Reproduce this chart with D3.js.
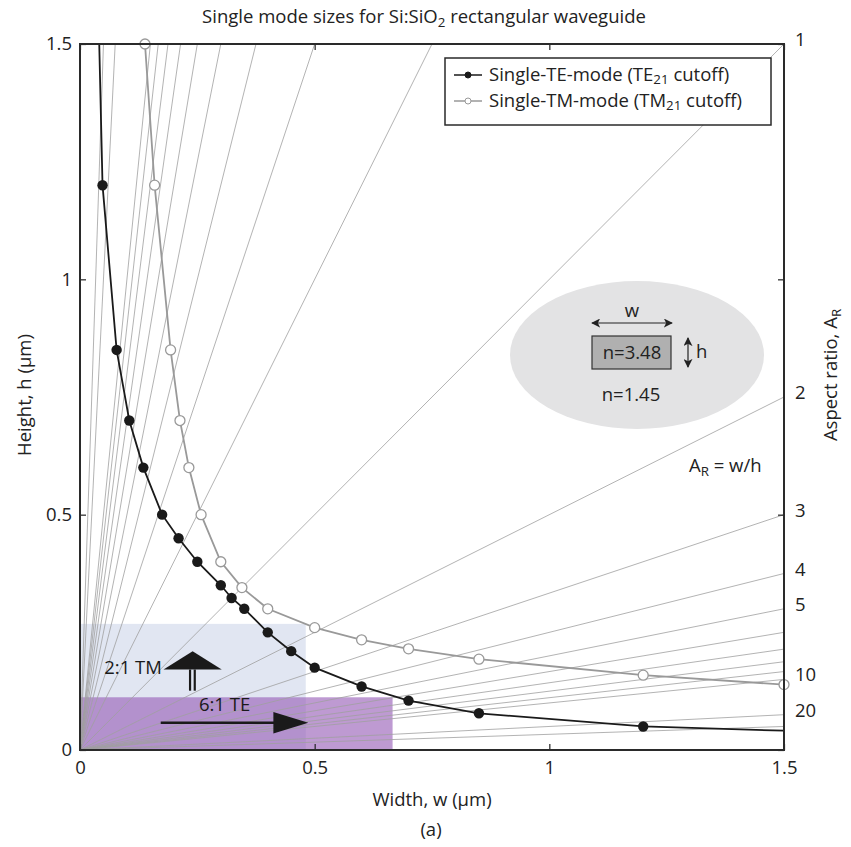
<!DOCTYPE html>
<html>
<head>
<meta charset="utf-8">
<script src="https://cdn.jsdelivr.net/npm/d3@7"></script>
<style>
  body { margin: 0; background: #fff; }
  svg { font-family: "Open Sans", Lato, sans-serif; }
</style>
</head>
<body>
<div id="chart"></div>
<script>
// single-TE-mode boundary (TE21 cutoff), width / height in um
const te_w = [0.041, 0.048, 0.078, 0.105, 0.135, 0.175, 0.21, 0.25, 0.3, 0.323, 0.35, 0.4, 0.45, 0.5, 0.6, 0.7, 0.85, 1.2, 1.5];
const te_h = [1.5, 1.2, 0.85, 0.7, 0.6, 0.5, 0.45, 0.4, 0.35, 0.323, 0.3, 0.25, 0.21, 0.175, 0.135, 0.105, 0.078, 0.05, 0.041];
// single-TM-mode boundary (TM21 cutoff)
const tm_w = [0.1385, 0.159, 0.193, 0.213, 0.232, 0.258, 0.3, 0.345, 0.4, 0.5, 0.6, 0.7, 0.85, 1.2, 1.5];
const tm_h = [1.5, 1.2, 0.85, 0.7, 0.6, 0.5, 0.4, 0.345, 0.3, 0.26, 0.234, 0.215, 0.193, 0.159, 0.139];

// aspect ratio guide lines A_R = w/h
const aspect_ratios = [1/30, 1/20, 1/10, 1/9, 1/8, 1/7, 1/6, 1/5, 1/4, 1/3, 1/2, 1, 2, 3, 4, 5, 6, 7, 8, 9, 10, 20, 30];
const ar_labels = [1, 2, 3, 4, 5, 10, 20];

const x_ticks = [0, 0.5, 1, 1.5];
const y_ticks = [0, 0.5, 1, 1.5];

// shaded design regions: 2:1 TM (blue) and 6:1 TE (purple)
const region_names = ["tm", "te"];
const region_w = [0.481, 0.666];
const region_h = [0.268, 0.112];

const W = 851, H = 847;
const FS = 18.5;
const x = d3.scaleLinear([0, 1.5], [80, 784]);
const y = d3.scaleLinear([0, 1.5], [750, 44]);

const svg = d3.select("#chart").append("svg")
    .attr("width", W)
    .attr("height", H);

const defs = svg.append("defs");
defs.append("clipPath")
    .attr("id", "plot-clip")
  .append("rect")
    .attr("x", x(0)).attr("y", y(1.5))
    .attr("width", x(1.5) - x(0))
    .attr("height", y(0) - y(1.5));

defs.append("marker")
    .attr("id", "head")
    .attr("viewBox", "0 0 10 10")
    .attr("refX", 9).attr("refY", 5)
    .attr("markerWidth", 9).attr("markerHeight", 9)
    .attr("markerUnits", "userSpaceOnUse")
    .attr("orient", "auto-start-reverse")
  .append("path")
    .attr("d", "M0,0L10,5L0,10L2.5,5Z")
    .attr("fill", "#222");

const plot = svg.append("g").attr("clip-path", "url(#plot-clip)");

// regions
const region_fill = {tm: "#e1e6f2", te: "rgba(150, 92, 182, 0.62)"};
plot.selectAll("rect.region")
  .data(region_names)
  .join("rect")
    .classed("region", true)
    .attr("x", x(0))
    .attr("y", (d, i) => y(region_h[i]))
    .attr("width", (d, i) => x(region_w[i]) - x(0))
    .attr("height", (d, i) => y(0) - y(region_h[i]))
    .attr("fill", d => region_fill[d]);

// aspect ratio lines from origin
plot.selectAll("line.ar")
  .data(aspect_ratios)
  .join("line")
    .classed("ar", true)
    .attr("x1", x(0)).attr("y1", y(0))
    .attr("x2", x(3))
    .attr("y2", a => y(3 / a))
    .attr("stroke", "#a0a0a0")
    .attr("stroke-width", 0.8);

const te_data = te_w.map((w, i) => [w, te_h[i]]);
const tm_data = tm_w.map((w, i) => [w, tm_h[i]]);
const line = d3.line().x(d => x(d[0])).y(d => y(d[1]));

plot.append("path")
    .datum(tm_data)
    .attr("d", line)
    .attr("fill", "none")
    .attr("stroke", "#999")
    .attr("stroke-width", 1.8);

plot.append("path")
    .datum(te_data)
    .attr("d", line)
    .attr("fill", "none")
    .attr("stroke", "#1a1a1a")
    .attr("stroke-width", 1.8);

// markers (TE curve runs past the frame at both ends without a marker)
svg.append("g").selectAll("circle")
  .data(tm_data)
  .join("circle")
    .attr("cx", d => x(d[0]))
    .attr("cy", d => y(d[1]))
    .attr("r", 5)
    .attr("fill", "#fff")
    .attr("stroke", "#999")
    .attr("stroke-width", 1.3);

svg.append("g").selectAll("circle")
  .data(te_data.slice(1, -1))
  .join("circle")
    .attr("cx", d => x(d[0]))
    .attr("cy", d => y(d[1]))
    .attr("r", 5.2)
    .attr("fill", "#1a1a1a");

// axes
const fmt = d3.format("");
const style_axis = g => {
  g.attr("font-size", FS).attr("font-family", null);
  g.select(".domain").remove();
  g.selectAll(".tick text").attr("fill", "#222");
  g.selectAll(".tick line").attr("stroke", "#222").attr("stroke-width", 1.2);
};

svg.append("g")
    .attr("transform", `translate(0,${y(0)})`)
    .call(d3.axisBottom(x).tickValues(x_ticks).tickSize(-6).tickPadding(11).tickFormat(fmt))
    .call(style_axis);
svg.append("g")
    .attr("transform", `translate(${x(0)},0)`)
    .call(d3.axisLeft(y).tickValues(y_ticks).tickSize(-6).tickPadding(8).tickFormat(fmt))
    .call(style_axis);
svg.append("g")
    .attr("transform", `translate(0,${y(1.5)})`)
    .call(d3.axisTop(x).tickValues(x_ticks).tickSize(-6).tickFormat(""))
    .call(style_axis);
svg.append("g")
    .attr("transform", `translate(${x(1.5)},0)`)
    .call(d3.axisRight(y).tickValues(y_ticks).tickSize(-6).tickFormat(""))
    .call(style_axis);

svg.append("rect")
    .attr("x", x(0)).attr("y", y(1.5))
    .attr("width", x(1.5) - x(0))
    .attr("height", y(0) - y(1.5))
    .attr("fill", "none")
    .attr("stroke", "#2a2a2a")
    .attr("stroke-width", 2);

// aspect ratio labels on the right
svg.append("g").selectAll("text")
  .data(ar_labels)
  .join("text")
    .attr("x", x(1.5) + 11)
    .attr("y", a => y(Math.min(1.5, 1.5 / a)) + 2)
    .attr("font-size", FS)
    .attr("fill", "#222")
    .text(a => a);

// titles
const label = (tx, ty, rot) => svg.append("text")
    .attr("transform", `translate(${tx},${ty}) rotate(${rot})`)
    .attr("text-anchor", "middle")
    .attr("font-size", FS)
    .attr("fill", "#222");

const sub = (t, s, d = 4) => {
  t.append("tspan").attr("dy", d).attr("font-size", FS * 0.72).text(s);
};

const title = label(424, 23, 0);
title.append("tspan").text("Single mode sizes for Si:SiO");
sub(title, "2");
title.append("tspan").attr("dy", -4).text(" rectangular waveguide");

label(432, 806, 0).text("Width, w (\u03bcm)");
label(431, 836, 0).text("(a)");
label(31, 395, -90).text("Height, h (\u03bcm)");

const ar_title = label(837, 375, -90);
ar_title.append("tspan").text("Aspect ratio, A");
sub(ar_title, "R");

const ar_eq = svg.append("text")
    .attr("x", 689).attr("y", 472)
    .attr("font-size", FS)
    .attr("fill", "#222");
ar_eq.append("tspan").text("A");
sub(ar_eq, "R");
ar_eq.append("tspan").attr("dy", -4).text(" = w/h");

// legend
const legend = svg.append("g");
legend.append("rect")
    .attr("x", 445).attr("y", 58)
    .attr("width", 326).attr("height", 67)
    .attr("fill", "#fff")
    .attr("stroke", "#2a2a2a")
    .attr("stroke-width", 1.5);

const legend_rows = [
  {name: "Single-TE-mode (TE", color: "#1a1a1a", fill: "#1a1a1a", y: 75},
  {name: "Single-TM-mode (TM", color: "#999", fill: "#fff", y: 101}
];
legend_rows.forEach(r => {
  legend.append("line")
      .attr("x1", 454).attr("x2", 482)
      .attr("y1", r.y).attr("y2", r.y)
      .attr("stroke", r.color).attr("stroke-width", 1.5);
  legend.append("circle")
      .attr("cx", 468).attr("cy", r.y).attr("r", 3)
      .attr("fill", r.fill).attr("stroke", r.color).attr("stroke-width", 1);
  const t = legend.append("text")
      .attr("x", 489).attr("y", r.y + 6)
      .attr("font-size", FS)
      .attr("fill", "#222");
  t.append("tspan").text(r.name);
  sub(t, "21", 3);
  t.append("tspan").attr("dy", -3).text(" cutoff)");
});

// waveguide cross-section inset
const inset = svg.append("g");
inset.append("ellipse")
    .attr("cx", 637).attr("cy", 355)
    .attr("rx", 127).attr("ry", 74)
    .attr("fill", "#e3e3e4");
inset.append("rect")
    .attr("x", 592).attr("y", 336)
    .attr("width", 79).attr("height", 33)
    .attr("fill", "#b0b0b0")
    .attr("stroke", "#333")
    .attr("stroke-width", 1.2);

const inset_text = (tx, ty, s, anchor = "middle") => inset.append("text")
    .attr("x", tx).attr("y", ty)
    .attr("text-anchor", anchor)
    .attr("font-size", FS).attr("fill", "#222")
    .text(s);
inset_text(632, 359, "n=3.48");
inset_text(631, 401, "n=1.45");
inset_text(632, 317, "w");
inset_text(696, 358, "h", "start");

inset.append("line")
    .attr("x1", 592).attr("x2", 672)
    .attr("y1", 323).attr("y2", 323)
    .attr("stroke", "#222").attr("stroke-width", 1.2)
    .attr("marker-start", "url(#head)")
    .attr("marker-end", "url(#head)");
inset.append("line")
    .attr("x1", 688).attr("x2", 688)
    .attr("y1", 338).attr("y2", 367)
    .attr("stroke", "#222").attr("stroke-width", 1.2)
    .attr("marker-start", "url(#head)")
    .attr("marker-end", "url(#head)");

// region annotations
const note = svg.append("g").attr("fill", "#1a1a1a");
note.append("text")
    .attr("x", x(0.113)).attr("y", y(0.162))
    .attr("text-anchor", "middle")
    .attr("font-size", FS)
    .text("2:1 TM");
note.append("path")
    .attr("d", `M${x(0.178)},${y(0.171)}L${x(0.24)},${y(0.21)}L${x(0.302)},${y(0.171)}Z`);
[0.2345, 0.2445].forEach(w => {
  note.append("line")
      .attr("x1", x(w)).attr("x2", x(w))
      .attr("y1", y(0.171)).attr("y2", y(0.126))
      .attr("stroke", "#1a1a1a").attr("stroke-width", 2.2);
});

note.append("text")
    .attr("x", x(0.308)).attr("y", y(0.082))
    .attr("text-anchor", "middle")
    .attr("font-size", FS)
    .text("6:1 TE");
note.append("line")
    .attr("x1", x(0.172)).attr("x2", x(0.42))
    .attr("y1", y(0.058)).attr("y2", y(0.058))
    .attr("stroke", "#1a1a1a").attr("stroke-width", 2.6);
note.append("path")
    .attr("d", `M${x(0.412)},${y(0.081)}L${x(0.4865)},${y(0.058)}L${x(0.412)},${y(0.035)}Z`);
</script>
</body>
</html>
